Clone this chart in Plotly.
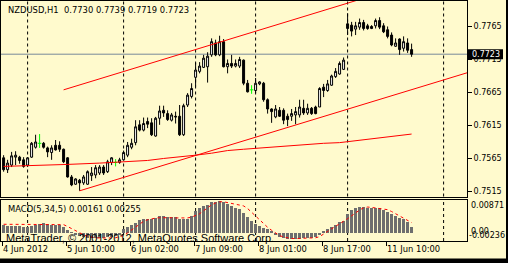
import plotly.graph_objects as go

W, H = 508, 263
BG = "#FFFACD"

# ---------------- data (NZDUSD, H1) ----------------
bar_open = [0.7566, 0.7548, 0.7555, 0.7567, 0.7567, 0.7563, 0.7555, 0.7567, 0.7582, 0.7588,
            0.7588, 0.7581, 0.7574, 0.7585, 0.7585, 0.7579, 0.7566, 0.7537, 0.7526, 0.7532,
            0.7528, 0.7526, 0.7539, 0.7540, 0.7543, 0.7552, 0.7545, 0.7559, 0.7559, 0.7559,
            0.7563, 0.7570, 0.7582, 0.7589, 0.7616, 0.7608, 0.7621, 0.7619, 0.7599, 0.7626,
            0.7638, 0.7633, 0.7623, 0.7629, 0.7629, 0.7601, 0.7646, 0.7659, 0.7688, 0.7697,
            0.7703, 0.7704, 0.7722, 0.7740, 0.7722, 0.7742, 0.7704, 0.7709, 0.7705, 0.7705,
            0.7714, 0.7679, 0.7669, 0.7668, 0.7678, 0.7679, 0.7654, 0.7640, 0.7628, 0.7638,
            0.7638, 0.7629, 0.7629, 0.7631, 0.7631, 0.7641, 0.7634, 0.7641, 0.7643, 0.7643,
            0.7673, 0.7668, 0.7676, 0.7689, 0.7693, 0.7700, 0.7769, 0.7767, 0.7761, 0.7764,
            0.7771, 0.7766, 0.7765, 0.7766, 0.7774, 0.7766, 0.7760, 0.7752, 0.7735, 0.7746,
            0.7732, 0.7740, 0.7730]
bar_high = [0.7570, 0.7563, 0.7575, 0.7576, 0.7569, 0.7567, 0.7567, 0.7590, 0.7601, 0.7602,
            0.7590, 0.7583, 0.7585, 0.7593, 0.7591, 0.7580, 0.7567, 0.7540, 0.7535, 0.7534,
            0.7540, 0.7547, 0.7552, 0.7555, 0.7555, 0.7555, 0.7563, 0.7567, 0.7564, 0.7566,
            0.7577, 0.7590, 0.7595, 0.7623, 0.7623, 0.7627, 0.7627, 0.7626, 0.7628, 0.7645,
            0.7645, 0.7638, 0.7634, 0.7636, 0.7646, 0.7648, 0.7664, 0.7679, 0.7710, 0.7711,
            0.7722, 0.7726, 0.7747, 0.7745, 0.7751, 0.7746, 0.7715, 0.7722, 0.7715, 0.7719,
            0.7715, 0.7684, 0.7676, 0.7687, 0.7682, 0.7681, 0.7656, 0.7641, 0.7646, 0.7643,
            0.7641, 0.7633, 0.7640, 0.7643, 0.7654, 0.7654, 0.7648, 0.7643, 0.7645, 0.7673,
            0.7678, 0.7684, 0.7692, 0.7702, 0.7712, 0.7718, 0.7785, 0.7772, 0.7772, 0.7777,
            0.7775, 0.7769, 0.7767, 0.7777, 0.7779, 0.7770, 0.7765, 0.7756, 0.7747, 0.7747,
            0.7750, 0.7747, 0.7739]
bar_low = [0.7545, 0.7543, 0.7552, 0.7555, 0.7557, 0.7551, 0.7552, 0.7566, 0.7580, 0.7581,
           0.7580, 0.7567, 0.7563, 0.7577, 0.7575, 0.7558, 0.7536, 0.7523, 0.7525, 0.7516,
           0.7525, 0.7525, 0.7531, 0.7535, 0.7540, 0.7540, 0.7543, 0.7555, 0.7553, 0.7557,
           0.7562, 0.7567, 0.7579, 0.7585, 0.7606, 0.7606, 0.7611, 0.7599, 0.7598, 0.7616,
           0.7628, 0.7622, 0.7621, 0.7618, 0.7599, 0.7599, 0.7643, 0.7656, 0.7674, 0.7694,
           0.7702, 0.7680, 0.7719, 0.7720, 0.7720, 0.7703, 0.7694, 0.7702, 0.7703, 0.7702,
           0.7676, 0.7665, 0.7663, 0.7664, 0.7676, 0.7651, 0.7633, 0.7619, 0.7626, 0.7628,
           0.7617, 0.7614, 0.7622, 0.7617, 0.7627, 0.7631, 0.7631, 0.7631, 0.7632, 0.7643,
           0.7658, 0.7666, 0.7675, 0.7687, 0.7692, 0.7699, 0.7752, 0.7750, 0.7752, 0.7760,
           0.7759, 0.7760, 0.7761, 0.7762, 0.7761, 0.7755, 0.7747, 0.7735, 0.7734, 0.7722,
           0.7727, 0.7725, 0.7719]
bar_close = [0.7548, 0.7558, 0.7569, 0.7570, 0.7562, 0.7553, 0.7566, 0.7588, 0.7590, 0.7588,
             0.7582, 0.7575, 0.7581, 0.7578, 0.7579, 0.7560, 0.7537, 0.7525, 0.7534, 0.7528,
             0.7537, 0.7545, 0.7543, 0.7551, 0.7552, 0.7543, 0.7560, 0.7566, 0.7559, 0.7563,
             0.7574, 0.7585, 0.7588, 0.7613, 0.7608, 0.7618, 0.7617, 0.7601, 0.7626, 0.7637,
             0.7634, 0.7624, 0.7631, 0.7628, 0.7601, 0.7645, 0.7661, 0.7671, 0.7699, 0.7705,
             0.7717, 0.7720, 0.7742, 0.7722, 0.7742, 0.7704, 0.7709, 0.7705, 0.7709, 0.7715,
             0.7679, 0.7666, 0.7669, 0.7679, 0.7681, 0.7654, 0.7640, 0.7636, 0.7640, 0.7629,
             0.7623, 0.7624, 0.7633, 0.7636, 0.7643, 0.7634, 0.7641, 0.7633, 0.7633, 0.7671,
             0.7668, 0.7678, 0.7690, 0.7697, 0.7709, 0.7714, 0.7762, 0.7758, 0.7766, 0.7771,
             0.7762, 0.7762, 0.7762, 0.7774, 0.7764, 0.7757, 0.7750, 0.7737, 0.7740, 0.7730,
             0.7742, 0.7729, 0.7723]

# long moving average (read at selected bars)
ma_bars = [0, 8, 16, 24, 32, 36, 40, 44, 48, 52, 56, 60, 64, 68, 72, 76, 80, 84, 88, 92, 96, 100, 102]
ma_values = [0.7553, 0.7554, 0.7556, 0.7558, 0.7560, 0.7562, 0.7565, 0.7567, 0.7570, 0.7573,
             0.7577, 0.7579, 0.7581, 0.7583, 0.7585, 0.7586, 0.7588, 0.7589, 0.7592, 0.7594,
             0.7597, 0.7601, 0.7602]

# trend channel anchors (bar index, price)
channel_lower_bars = [19, 71]
channel_lower_prices = [0.7516, 0.7612]
channel_upper_bars = [15, 55]
channel_upper_prices = [0.7669, 0.7743]

# MACD(5,34,5)
macd_main = [0.00215, 0.00179, 0.00179, 0.00179, 0.00179, 0.00152, 0.00152, 0.00179, 0.00215, 0.00242,
             0.00260, 0.00242, 0.00215, 0.00215, 0.00197, 0.00152, 0.00062, 0.00005, -0.00055, -0.00091,
             -0.00118, -0.00145, -0.00145, -0.00145, -0.00145, -0.00145, -0.00127, -0.00118, -0.00091, -0.00055,
             0.00089, 0.00152, 0.00197, 0.00269, 0.00332, 0.00359, 0.00377, 0.00359, 0.00395, 0.00440,
             0.00440, 0.00422, 0.00422, 0.00413, 0.00359, 0.00377, 0.00377, 0.00449, 0.00575, 0.00665,
             0.00710, 0.00737, 0.00809, 0.00827, 0.00845, 0.00809, 0.00755, 0.00719, 0.00665, 0.00629,
             0.00520, 0.00420, 0.00320, 0.00220, 0.00179, 0.00125, 0.00089, 0.00035, -0.00055, -0.00118,
             -0.00145, -0.00163, -0.00163, -0.00163, -0.00163, -0.00145, -0.00145, -0.00145, -0.00118, -0.00055,
             0.00035, 0.00107, 0.00152, 0.00215, 0.00287, 0.00305, 0.00485, 0.00602, 0.00665, 0.00692,
             0.00692, 0.00665, 0.00665, 0.00665, 0.00647, 0.00602, 0.00539, 0.00485, 0.00449, 0.00395,
             0.00359, 0.00287, 0.00161]
macd_signal = [0.00210, 0.00210, 0.00210, 0.00205, 0.00200, 0.00200, 0.00200, 0.00205, 0.00210, 0.00215,
               0.00220, 0.00220, 0.00220, 0.00220, 0.00215, 0.00200, 0.00150, 0.00090, 0.00035, -0.00020,
               -0.00070, -0.00110, -0.00140, -0.00150, -0.00155, -0.00160, -0.00160, -0.00155, -0.00150, -0.00130,
               -0.00090, -0.00020, 0.00060, 0.00150, 0.00230, 0.00290, 0.00330, 0.00360, 0.00375, 0.00385,
               0.00390, 0.00390, 0.00385, 0.00380, 0.00375, 0.00375, 0.00380, 0.00400, 0.00440, 0.00490,
               0.00570, 0.00660, 0.00730, 0.00780, 0.00810, 0.00810, 0.00790, 0.00770, 0.00740, 0.00720,
               0.00700, 0.00630, 0.00530, 0.00420, 0.00320, 0.00220, 0.00130, 0.00050, -0.00030, -0.00090,
               -0.00130, -0.00160, -0.00170, -0.00170, -0.00170, -0.00170, -0.00165, -0.00160, -0.00150, -0.00120,
               -0.00060, 0.00020, 0.00090, 0.00150, 0.00220, 0.00290, 0.00360, 0.00440, 0.00510, 0.00590,
               0.00650, 0.00670, 0.00660, 0.00650, 0.00630, 0.00620, 0.00600, 0.00550, 0.00490, 0.00430,
               0.00360, 0.00310, 0.00255]

price_ticks = [0.7515, 0.7565, 0.7615, 0.7665, 0.7715, 0.7765]
label_bars = [0, 16, 32, 48, 64, 80, 96]
time_labels = ["4 Jun 2012", "5 Jun 10:00", "6 Jun 02:00", "7 Jun 09:00",
               "8 Jun 01:00", "8 Jun 17:00", "11 Jun 10:00"]
day_start_bars = [6, 30, 48, 63, 86, 110]
header_text = "NZDUSD,H1\u00a0\u00a00.7730 0.7739 0.7719 0.7723"
macd_text = "MACD(5,34,5) 0.00161 0.00255"
copyright_text = "MetaTrader, \u00a9 2001-2012, MetaQuotes Software Corp."

# ---------------- layout geometry (pixels) ----------------
PLOT_L, PLOT_R = 1, 467
MAIN_TOP, MAIN_BOT = 1, 196.5
MACD_TOP, MACD_BOT = 199.5, 241
x_range = [-0.65, 115.85]
y_range = [0.75074, 0.78036]
macd_range = [-0.00236, 0.00871]
TICK_SHIFT = -0.4
FONT = "DejaVu Sans"

def py(p):
    return 1 - p / H

N = len(bar_close)
bars = list(range(N))

fig = go.Figure()

# candles (non-doji)
is_doji = [o == c for o, c in zip(bar_open, bar_close)]
keep = [i for i in bars if not is_doji[i]]
fig.add_trace(go.Candlestick(
    x=keep,
    open=[bar_open[i] for i in keep], high=[bar_high[i] for i in keep],
    low=[bar_low[i] for i in keep], close=[bar_close[i] for i in keep],
    increasing=dict(line=dict(color="black", width=1), fillcolor="white"),
    decreasing=dict(line=dict(color="black", width=1), fillcolor="black"),
    whiskerwidth=0, xaxis="x", yaxis="y", showlegend=False, hoverinfo="skip"))

# doji crosses (green)
dx, dy = [], []
for i in bars:
    if is_doji[i]:
        dx += [i, i, None, i - 0.45, i + 0.45, None]
        dy += [bar_low[i], bar_high[i], None, bar_open[i], bar_open[i], None]
fig.add_trace(go.Scatter(x=dx, y=dy, mode="lines", line=dict(color="#00FF00", width=1),
                         xaxis="x", yaxis="y", showlegend=False, hoverinfo="skip"))

# moving average
fig.add_trace(go.Scatter(x=ma_bars, y=ma_values, mode="lines", line=dict(color="red", width=1),
                         xaxis="x", yaxis="y", showlegend=False, hoverinfo="skip"))

# channel rays
def ray(bx, pr):
    slope = (pr[1] - pr[0]) / (bx[1] - bx[0])
    x_end = x_range[1]
    return [bx[0], x_end], [pr[0], pr[0] + slope * (x_end - bx[0])]

for bx, pr in [(channel_lower_bars, channel_lower_prices), (channel_upper_bars, channel_upper_prices)]:
    rx, ry = ray(bx, pr)
    fig.add_trace(go.Scatter(x=rx, y=ry, mode="lines", line=dict(color="red", width=1),
                             xaxis="x", yaxis="y", showlegend=False, hoverinfo="skip"))

# MACD
fig.add_trace(go.Bar(x=bars, y=macd_main, marker=dict(color="#6E6E6E", line=dict(width=0)),
                     width=0.75, xaxis="x2", yaxis="y2", showlegend=False, hoverinfo="skip"))
fig.add_trace(go.Scatter(x=bars, y=macd_signal, mode="lines",
                         line=dict(color="red", width=1, dash="dot"),
                         xaxis="x2", yaxis="y2", showlegend=False, hoverinfo="skip"))

shapes = []
# day separators
for b in day_start_bars:
    for yr in ("y domain", "y2 domain"):
        shapes.append(dict(type="line", xref="x", yref=yr, x0=b, x1=b, y0=0, y1=1,
                           line=dict(color="black", width=1, dash="3px,3px"), layer="below"))
# bid line
last = bar_close[-1]
shapes.append(dict(type="line", xref="x domain", yref="y", x0=0, x1=1, y0=last, y1=last,
                   line=dict(color="#778899", width=1), layer="below"))
# bid price label box
ppp = (y_range[1] - y_range[0]) / (MAIN_BOT - MAIN_TOP)
shapes.append(dict(type="rect", xref="paper", yref="y", x0=468 / W, x1=503 / W,
                   y0=last - 5 * ppp, y1=last + 5 * ppp, fillcolor="black", line=dict(width=0)))
# window borders
shapes.append(dict(type="rect", xref="paper", yref="paper", x0=506 / W, x1=1, y0=0, y1=1,
                   fillcolor="black", line=dict(width=0)))
shapes.append(dict(type="rect", xref="paper", yref="paper", x0=0, x1=1, y0=0, y1=py(258.5),
                   fillcolor="black", line=dict(width=0)))

annotations = [
    dict(text=header_text, xref="paper", yref="paper", x=6.5 / W, y=py(10.5), xanchor="left",
         yanchor="middle", showarrow=False, font=dict(family=FONT, size=8.4, color="black"), borderpad=0),
    dict(text=macd_text, xref="paper", yref="paper", x=6.5 / W, y=py(208.7), xanchor="left",
         yanchor="middle", showarrow=False, font=dict(family=FONT, size=8.4, color="black"), borderpad=0),
    dict(text=copyright_text, xref="paper", yref="paper", x=5 / W, y=py(237.8), xanchor="left",
         yanchor="middle", showarrow=False, font=dict(family="Liberation Sans", size=11, color="black"), borderpad=0),
    dict(text=f"{last:.4f}", xref="paper", yref="y", x=471 / W, y=last, xanchor="left",
         yanchor="middle", showarrow=False, font=dict(family=FONT, size=8, color="white"), borderpad=0),
    dict(text=f"{macd_range[1]:.5f}", xref="paper", yref="paper", x=470 / W, y=py(205.5), xanchor="left",
         yanchor="middle", showarrow=False, font=dict(family=FONT, size=8, color="black"), borderpad=0),
    dict(text="0.00", xref="paper", yref="paper", x=470 / W, y=py(231), xanchor="left",
         yanchor="middle", showarrow=False, font=dict(family=FONT, size=8, color="black"), borderpad=0),
    dict(text=f"{macd_range[0]:.5f}", xref="paper", yref="paper", x=467.5 / W, y=py(235), xanchor="left",
         yanchor="middle", showarrow=False, font=dict(family=FONT, size=8, color="black"), borderpad=0),
]

axis_common = dict(showgrid=False, zeroline=False, showline=True, mirror=True,
                   linecolor="black", linewidth=1, fixedrange=True)

fig.update_layout(
    width=W, height=H, margin=dict(l=0, r=0, t=0, b=0),
    paper_bgcolor=BG, plot_bgcolor=BG, showlegend=False,
    font=dict(family=FONT, size=8, color="black"),
    bargap=0,
    xaxis=dict(domain=[PLOT_L / W, PLOT_R / W], range=x_range, anchor="y",
               showticklabels=False, ticks="", rangeslider=dict(visible=False), **axis_common),
    yaxis=dict(domain=[py(MAIN_BOT), py(MAIN_TOP)], range=y_range, anchor="x", side="right",
               tickvals=price_ticks, ticktext=[f"{v:.4f}" for v in price_ticks],
               ticks="outside", ticklen=4, tickcolor="black", tickfont=dict(family=FONT, size=8),
               **axis_common),
    xaxis2=dict(domain=[PLOT_L / W, PLOT_R / W], range=x_range, anchor="y2",
                tickvals=[b + TICK_SHIFT for b in label_bars], ticktext=time_labels,
                ticks="outside", ticklen=4, tickcolor="black", ticklabelposition="outside right",
                tickfont=dict(family=FONT, size=8.4), **axis_common),
    yaxis2=dict(domain=[py(MACD_BOT), py(MACD_TOP)], range=macd_range, anchor="x2", side="right",
                showticklabels=False, ticks="", **axis_common),
    shapes=shapes, annotations=annotations,
)

fig.write_html("out.html")
